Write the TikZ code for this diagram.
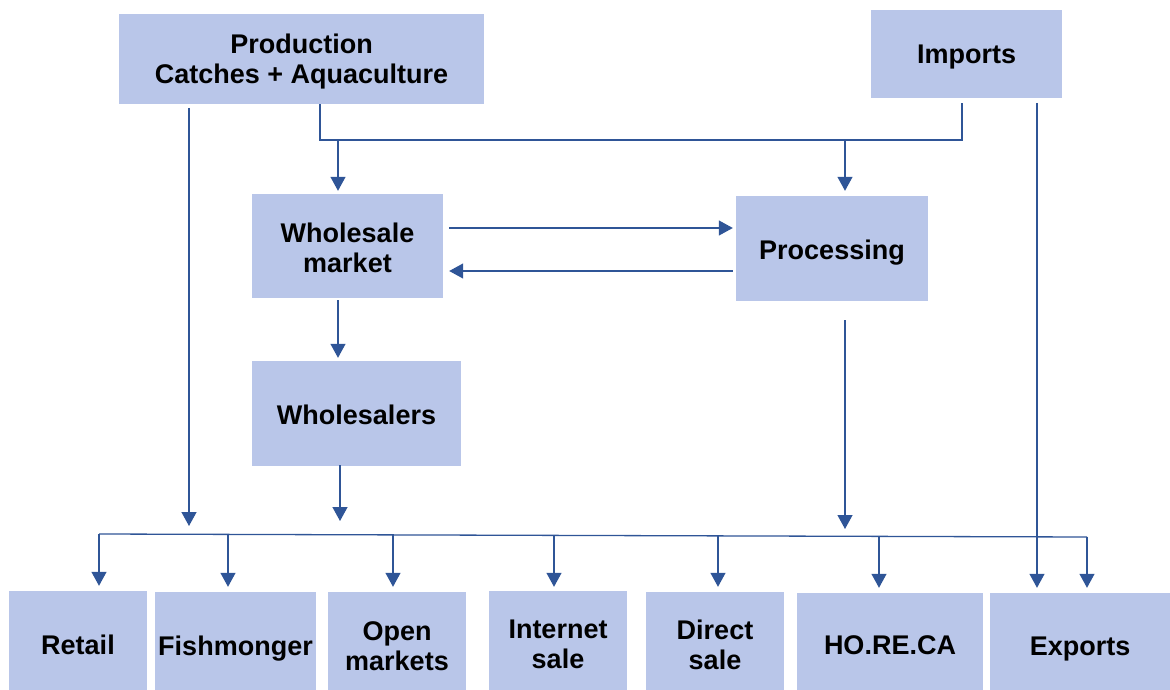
\documentclass[tikz,border=0pt]{standalone}
\usepackage{fontspec}
\setmainfont{Liberation Sans}
\usetikzlibrary{arrows.meta,calc}
\definecolor{boxfill}{HTML}{B9C6E9}
\definecolor{linec}{HTML}{2F5597}
\begin{document}
\begin{tikzpicture}[x=1pt,y=-1pt,
  box/.style={rectangle, fill=boxfill, draw=none, inner sep=0pt},
  txt/.style={align=center, inner sep=0pt, font=\fontsize{27}{30}\selectfont\bfseries},
  conn/.style={draw=linec, line width=1.3pt},
  arr/.style={conn, -{Triangle[width=15pt,length=14pt]}}]
\useasboundingbox (0,0) rectangle (1170,690);
% boxes
\node[box, minimum width=365, minimum height=90] (prod) at (301.5,59) {};
\node[box, minimum width=191, minimum height=88] (imp) at (966.5,54) {};
\node[box, minimum width=191, minimum height=104] (wm) at (347.5,246) {};
\node[box, minimum width=192, minimum height=105] (proc) at (832,248.5) {};
\node[box, minimum width=209, minimum height=105] (whs) at (356.5,413.5) {};
\node[box, minimum width=138, minimum height=99] (retail) at (78,640.5) {};
\node[box, minimum width=161, minimum height=98] (fish) at (235.5,641) {};
\node[box, minimum width=138, minimum height=98] (open) at (397,641) {};
\node[box, minimum width=138, minimum height=99] (inet) at (558,640.5) {};
\node[box, minimum width=138, minimum height=98] (direct) at (715,641) {};
\node[box, minimum width=186, minimum height=97] (horeca) at (890,641.5) {};
\node[box, minimum width=180, minimum height=97] (exp) at (1080,641.5) {};
% labels (yshift is in canvas units: negative moves down)
\node[txt] (prod-t) at ([yshift=-2.5]prod.center) {Production\\Catches + Aquaculture};
\node[txt] (imp-t) at ([yshift=-3.5]imp.center) {Imports};
\node[txt] (wm-t) at ([yshift=-1.5]wm.center) {Wholesale\\market};
\node[txt] (proc-t) at ([yshift=-4]proc.center) {Processing};
\node[txt] (whs-t) at ([yshift=-1]whs.center) {Wholesalers};
\node[txt] (retail-t) at ([yshift=-4.5]retail.center) {Retail};
\node[txt] (fish-t) at ([yshift=-7.5]fish.center) {Fishmonger};
\node[txt] (open-t) at ([yshift=-5]open.center) {Open\\markets};
\node[txt] (inet-t) at ([yshift=-4]inet.center) {Internet\\sale};
\node[txt] (direct-t) at ([yshift=-4]direct.center) {Direct\\sale};
\node[txt] (horeca-t) at ([yshift=-4]horeca.center) {HO.RE.CA};
\node[txt] (exp-t) at ([yshift=-7.5]exp.center) {Exports};
% junction coordinates
\coordinate (tj1) at (320,140);
\coordinate (tj2) at (962,140);
\coordinate (tjw) at (338,140);
\coordinate (tjp) at (845,140);
\coordinate (pl) at (189,108);
\coordinate (ple) at (189,526);
\coordinate (wmb) at (338,300);
\coordinate (whsb) at (340,465);
\coordinate (whse) at (340,521);
\coordinate (procb) at (845,320);
\coordinate (proce) at (845,529);
\coordinate (bl) at (99,534);
\coordinate (br) at (1087,537);
\coordinate (impl) at (1037,103);
\coordinate (b2) at (228,534.4);
\coordinate (b3) at (393,534.9);
\coordinate (b4) at (554,535.4);
\coordinate (b5) at (718,535.9);
\coordinate (b6) at (879,536.4);
% top connector
\draw[conn] (prod.south -| tj1) -- (tj1) -- (tj2) -- ([yshift=-5]imp.south -| tj2);
\draw[arr] (tjw) -- ([yshift=3]wm.north -| tjw);
\draw[arr] (tjp) -- ([yshift=5]proc.north -| tjp);
% production direct line
\draw[arr] (pl) -- (ple);
% wholesale market <-> processing
\draw[arr] ([xshift=6]wm.east |- 0,228) -- ([xshift=-3]proc.west |- 0,228);
\draw[arr] ([xshift=-3]proc.west |- 0,271) -- ([xshift=6]wm.east |- 0,271);
% down arrows
\draw[arr] (wmb) -- ([yshift=3]whs.north -| wmb);
\draw[arr] (whsb) -- (whse);
\draw[arr] (procb) -- (proce);
% bus
\draw[conn] (bl) -- (br);
\draw[arr] (bl) -- ([yshift=5]retail.north -| bl);
\draw[arr] (b2) -- ([yshift=5]fish.north -| b2);
\draw[arr] (b3) -- ([yshift=5]open.north -| b3);
\draw[arr] (b4) -- ([yshift=4]inet.north -| b4);
\draw[arr] (b5) -- ([yshift=5]direct.north -| b5);
\draw[arr] (b6) -- ([yshift=5]horeca.north -| b6);
\draw[arr] (br) -- ([yshift=5]exp.north -| br);
% imports to exports
\draw[arr] (impl) -- ([yshift=5]exp.north -| impl);
\end{tikzpicture}
\end{document}
